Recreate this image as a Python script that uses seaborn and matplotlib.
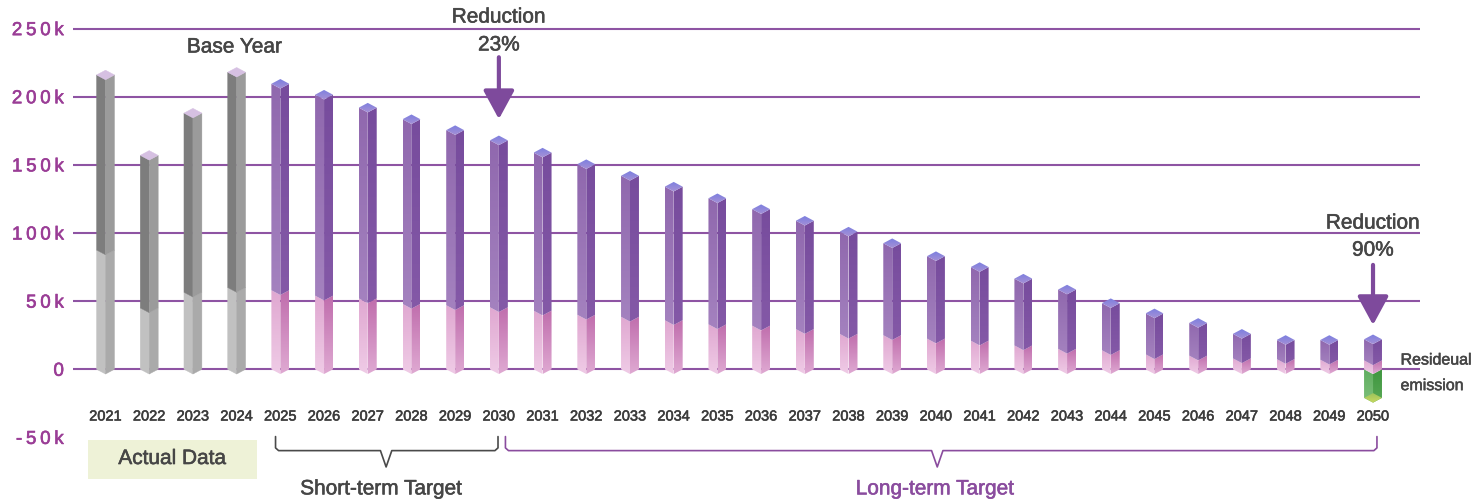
import numpy as np
import matplotlib
matplotlib.use("Agg")
import matplotlib.pyplot as plt
import matplotlib.patheffects as pe
from matplotlib.patches import Polygon, Rectangle
from matplotlib.colors import LinearSegmentedColormap
import seaborn as sns

# ---- data (thousand tCO2e) -------------------------------------------------
years = [str(y) for y in range(2021, 2051)]
actual_years = ["2021", "2022", "2023", "2024"]
total_emission = [216, 157, 188, 218, 209.5, 201.5, 192, 183.5, 175.5, 168,
                  159, 150.5, 142, 134, 125.5, 117.5, 109, 101, 92.5, 83,
                  75, 66.5, 58.5, 48.5, 41, 34, 26, 21.5, 21.5, 22]
lower_part = [87.5, 45, 56.5, 60, 58, 54, 52, 48, 47, 45.5,
              43, 40, 38.5, 36, 33, 32, 29.5, 26, 25, 22.5,
              21, 17.5, 15, 14, 11, 10, 8, 7.5, 7, 6.5]
removal_years = ["2050"]
removal = [-21]

y_ticks = [-50, 0, 50, 100, 150, 200, 250]
y_tick_labels = ["-50k", "0", "50k", "100k", "150k", "200k", "250k"]

# ---- style -----------------------------------------------------------------
sns.set_theme(style="white")
plt.rcParams["font.family"] = ["Liberation Sans", "DejaVu Sans"]

TXT = "#464646"
PURPLE = "#8a4c9e"
GRID = "#8e54a3"
TICK = "#9a3d96"


def heavy(color, w=0.5):
    return [pe.withStroke(linewidth=w, foreground=color)]


fig = plt.figure(figsize=(14.78, 5.01), dpi=100, facecolor="white")
ax = fig.add_axes([0.04939, 0.12695, 0.91137, 0.82135])

# seaborn places the bars; each rectangle is then rebuilt as a prism
sns.barplot(x=years, y=total_emission, order=years, width=0.41, color="#888888", ax=ax)
sns.barplot(x=years, y=lower_part, order=years, width=0.41, color="#cccccc", ax=ax)
sns.barplot(x=removal_years, y=removal, order=years, width=0.41, color="#5aa85a", ax=ax)

D = 3.5  # drop of the front edge, gives the isometric look


def faces(cx, hw, y0, y1):
    left = [(cx - hw, y0), (cx, y0 - D), (cx, y1 - D), (cx - hw, y1)]
    right = [(cx, y0 - D), (cx + hw, y0), (cx + hw, y1), (cx, y1 - D)]
    return left, right


def diamond(cx, hw, y):
    return [(cx - hw, y), (cx, y - D), (cx + hw, y), (cx, y + D)]


def grad_fill(verts, c_top, c_bot, z):
    poly = Polygon(verts, closed=True, facecolor="none", edgecolor="none", zorder=z)
    ax.add_patch(poly)
    xs = [v[0] for v in verts]
    ys = [v[1] for v in verts]
    cmap = LinearSegmentedColormap.from_list("face", [c_bot, c_top])
    grad = np.linspace(0, 1, 64).reshape(-1, 1)
    im = ax.imshow(grad, extent=(min(xs), max(xs), min(ys), max(ys)), origin="lower",
                   cmap=cmap, aspect="auto", interpolation="bilinear", zorder=z)
    im.set_clip_path(poly)


def flat_fill(verts, color, z):
    ax.add_patch(Polygon(verts, closed=True, facecolor=color, edgecolor=color,
                         lw=0.3, zorder=z))


tot_bars, low_bars, rem_bars = ax.containers[0], ax.containers[1], ax.containers[2]

for i, (pt, pl) in enumerate(zip(tot_bars.patches, low_bars.patches)):
    cx = pt.get_x() + pt.get_width() / 2
    hw = pt.get_width() / 2
    top = pt.get_y() + pt.get_height()
    low = pl.get_y() + pl.get_height()
    pt.set_visible(False)
    pl.set_visible(False)
    lf_low, rf_low = faces(cx, hw, 0, low)
    lf_up, rf_up = faces(cx, hw, low, top)
    if years[i] in actual_years:
        flat_fill(lf_low, "#c1c1c1", 3)
        flat_fill(rf_low, "#aaaaaa", 3)
        flat_fill(lf_up, "#7d7d7d", 4)
        flat_fill(rf_up, "#9b9b9b", 4)
        flat_fill(diamond(cx, hw, top), "#d6c0e2", 5)
    else:
        grad_fill(lf_low, "#e0a8d1", "#efcbe6", 3)
        grad_fill(rf_low, "#c06ead", "#dfa9d2", 3)
        grad_fill(lf_up, "#9068ae", "#a482bf", 4)
        grad_fill(rf_up, "#774c9d", "#8459a7", 4)
        grad_fill(diamond(cx, hw, top), "#7c7fe0", "#a490d6", 5)

for p in rem_bars.patches:
    h = p.get_height()
    if not np.isfinite(h) or h == 0:
        continue
    cx = p.get_x() + p.get_width() / 2
    hw = p.get_width() / 2
    bottom = p.get_y() + h if h < 0 else p.get_y()
    p.set_visible(False)
    lf, rf = faces(cx, hw, bottom, 0)
    grad_fill(lf, "#60ad60", "#7cc07a", 2)
    grad_fill(rf, "#3f963f", "#58a856", 2)
    grad_fill(diamond(cx, hw, bottom), "#9cc45c", "#c8d860", 2)

# ---- axes ------------------------------------------------------------------
ax.set_xlim(-0.744, 30.075)
ax.set_ylim(-50, 252)
ax.set_xlabel("")
ax.set_ylabel("")
for s in ax.spines.values():
    s.set_visible(False)
ax.spines["bottom"].set_position(("data", -27.5))

ax.set_yticks(y_ticks, ["\u2009".join(t) for t in y_tick_labels])
ax.tick_params(axis="y", length=0, pad=6.5, labelsize=13.5, labelcolor=TICK)
ax.tick_params(axis="x", length=0, pad=2, labelsize=10.5, labelcolor="#3c3c3c")
for lab in ax.get_yticklabels():
    lab.set_path_effects(heavy(TICK, 0.45))
for lab in ax.get_xticklabels():
    lab.set_path_effects(heavy("#3c3c3c", 0.4))

ax.set_axisbelow(True)
ax.yaxis.grid(True, color=GRID, lw=1.5)
ax.get_ygridlines()[0].set_visible(False)

# ---- annotations -----------------------------------------------------------
notes = [
    (2.95, 236.5, "Base Year", "center", 15),
    (9, 258.5, "Reduction", "center", 15),
    (9, 238, "23%", "center", 15),
    (29, 107.3, "Reduction", "center", 15),
    (29, 87.4, "90%", "center", 15),
    (29.63, 6.8, "Resideual", "left", 11.5),
    (29.63, -12, "emission", "left", 11.5),
]
for x, y, s, ha, fs in notes:
    ax.text(x, y, s, ha=ha, va="center", fontsize=fs, color=TXT,
            path_effects=heavy(TXT, 0.4))

arrow_color = "#7e4a9c"
for x, y_tail, y_tip in [(9, 229, 183.6), (29, 76.6, 32.5)]:
    ax.annotate("", xy=(x, y_tip), xytext=(x, y_tail), annotation_clip=False,
                arrowprops=dict(arrowstyle="-|>,head_length=1.75,head_width=0.95",
                                lw=3, color=arrow_color, shrinkA=0, shrinkB=0,
                                mutation_scale=10))

ax.add_patch(Rectangle((-0.405, -80.5), 3.875, 28.7, facecolor="#eef2d7",
                       edgecolor="none", clip_on=False, zorder=1))
ax.text(1.53, -65.5, "Actual Data", ha="center", va="center", fontsize=15, color=TXT,
        path_effects=heavy(TXT, 0.4))


def bracket(x0, x1, xm, color):
    top, mid, tip = -49.4, -59.7, -71.7
    r, hw = 0.07, 0.13
    xs = [x0, x0, x0 + r, xm - hw, xm, xm + hw, x1 - r, x1, x1]
    ys = [top, mid + 2, mid, mid, tip, mid, mid, mid + 2, top]
    ax.plot(xs, ys, color=color, lw=1.2, clip_on=False, solid_joinstyle="round",
            solid_capstyle="round")


bracket(3.89, 8.98, 6.42, "#4a4a4a")
bracket(9.15, 29.09, 19.03, PURPLE)
ax.text(6.31, -87.8, "Short-term Target", ha="center", va="center", fontsize=15,
        color=TXT, path_effects=heavy(TXT, 0.4))
ax.text(18.98, -87.8, "Long-term Target", ha="center", va="center", fontsize=15,
        color=PURPLE, path_effects=heavy(PURPLE, 0.4))

fig.savefig("out.png", dpi=100, facecolor="white")
